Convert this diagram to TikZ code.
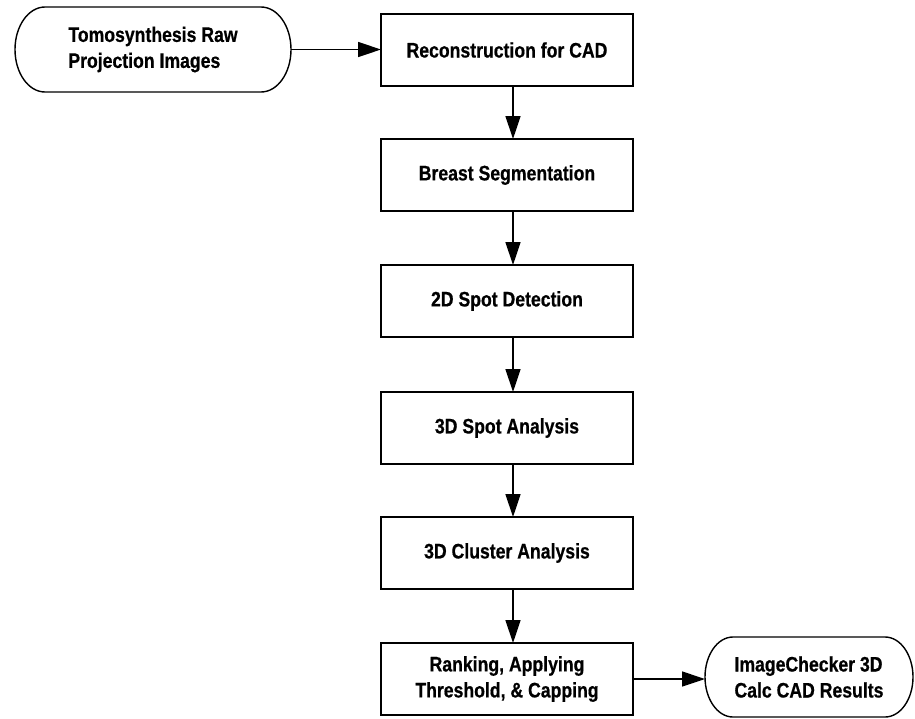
\documentclass[tikz,border=0pt]{standalone}
\usepackage{fontspec}
\setmainfont{Liberation Sans}[FakeStretch=0.84,FakeBold=0.6]
\usetikzlibrary{arrows.meta}
\tikzset{
  stepbox/.style={draw, line width=1.8pt, minimum width=252pt, minimum height=72pt,
    inner sep=0pt, outer sep=0pt, align=center, font=\fontsize{21}{26}\selectfont\bfseries},
  termnode/.style={draw=none, inner sep=0pt, outer sep=0pt,
    font=\fontsize{21}{26}\selectfont\bfseries},
  termline/.style={line width=1.4pt},
  flow/.style={line width=1.4pt, -{Triangle[length=23pt,width=15pt]}}
}
\begin{document}
\begin{tikzpicture}[x=1pt,y=-1pt]
\useasboundingbox (0,0) rectangle (915,718);
% terminals
\node[termnode, minimum width=276pt, minimum height=85pt, align=left] (s1) at (153,49.5)
  {Tomosynthesis Raw\\Projection Images};
\draw[termline] ([xshift=30pt]s1.north west) -- ([xshift=-30pt]s1.north east)
  arc[start angle=90,end angle=-90,x radius=30pt,y radius=42.5pt]
  -- ([xshift=30pt]s1.south west)
  arc[start angle=270,end angle=90,x radius=30pt,y radius=42.5pt] -- cycle;
\node[termnode, minimum width=208pt, minimum height=80pt, align=left] (s2) at (809,677)
  {ImageChecker 3D\\Calc CAD Results};
\draw[termline] ([xshift=28pt]s2.north west) -- ([xshift=-28pt]s2.north east)
  arc[start angle=90,end angle=-90,x radius=28pt,y radius=40pt]
  -- ([xshift=28pt]s2.south west)
  arc[start angle=270,end angle=90,x radius=28pt,y radius=40pt] -- cycle;
% process boxes
\node[stepbox] (b1) at (507,50) {Reconstruction for CAD};
\node[stepbox] (b2) at (507,175) {Breast Segmentation};
\node[stepbox] (b3) at (507,301) {2D Spot Detection};
\node[stepbox] (b4) at (507,428) {3D Spot Analysis};
\node[stepbox] (b5) at (507,553) {3D Cluster Analysis};
\node[stepbox] (b6) at (507,679) {Ranking, Applying\\Threshold, \& Capping};
% connectors
\draw[flow] (s1.east) -- (s1.east -| b1.west);
\draw[flow] ([xshift=6pt]b1.south) -- ([xshift=6pt]b2.north);
\draw[flow] ([xshift=6pt]b2.south) -- ([xshift=6pt]b3.north);
\draw[flow] ([xshift=6pt]b3.south) -- ([xshift=6pt]b4.north);
\draw[flow] ([xshift=6pt]b4.south) -- ([xshift=6pt]b5.north);
\draw[flow] ([xshift=6pt]b5.south) -- ([xshift=6pt]b6.north);
\draw[flow] (b6.east) -- (b6.east -| s2.west);
\end{tikzpicture}
\end{document}
